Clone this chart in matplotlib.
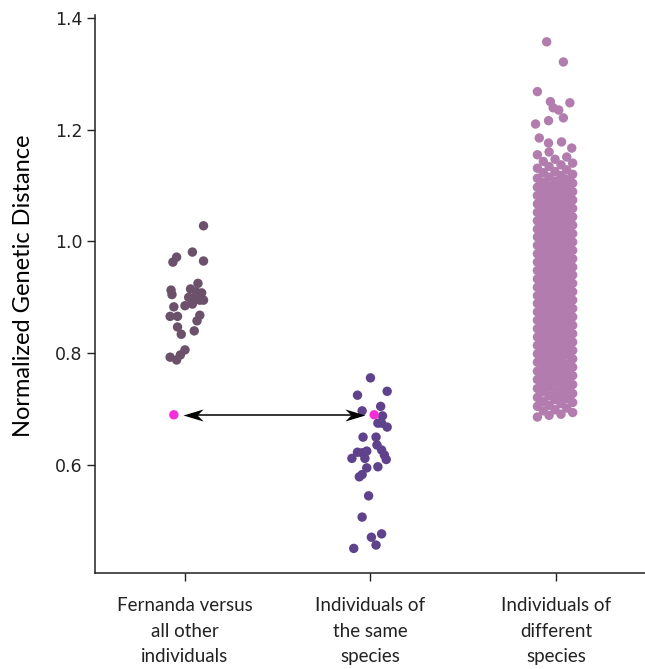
import numpy as np
import matplotlib.pyplot as plt
from matplotlib.path import Path

# categories and tick labels
categories = [0, 1, 2]
cat_labels = ["Fernanda versus\nall other\nindividuals",
              "Individuals of\nthe same\nspecies",
              "Individuals of\ndifferent\nspecies"]

# Fernanda versus all others (jitter offset, distance)
fernanda_dx = [0.10, 0.04, -0.045, -0.065, 0.10, -0.075, -0.07, 0.07, 0.03, 0.06,
               0.09, 0.02, 0.05, 0.08, 0.04, 0.10, -0.06, 0.0, -0.08, -0.04,
               0.08, 0.065, -0.04, -0.02, 0.05, 0.0, -0.025, -0.08, -0.045]
fernanda_y = [1.028, 0.981, 0.972, 0.963, 0.965, 0.913, 0.905, 0.925, 0.915, 0.910,
              0.908, 0.900, 0.898, 0.895, 0.888, 0.895, 0.883, 0.885, 0.866, 0.866,
              0.868, 0.858, 0.847, 0.834, 0.840, 0.806, 0.797, 0.793, 0.788]

# individuals of the same species
same_dx = [0.0, -0.07, 0.09, 0.055, -0.045, 0.065, 0.04, 0.09, 0.06, -0.04,
           0.03, 0.035, 0.06, 0.075, 0.085, -0.07, -0.02, -0.1, -0.045, -0.03,
           -0.02, 0.04, -0.06, -0.045, -0.01, -0.045, 0.06, 0.005, 0.03, -0.09]
same_y = [0.756, 0.725, 0.732, 0.705, 0.697, 0.688, 0.675, 0.668, 0.675, 0.650,
          0.650, 0.636, 0.627, 0.618, 0.610, 0.623, 0.625, 0.612, 0.622, 0.612,
          0.595, 0.597, 0.579, 0.583, 0.545, 0.507, 0.477, 0.471, 0.457, 0.451]

# individuals of different species: dense column plus sparse top
diff_y = [0.686, 0.689, 0.691, 0.694, 0.697, 0.699, 0.702, 0.705, 0.707, 0.710,
          0.712, 0.714, 0.717, 0.719, 0.721, 0.724, 0.726, 0.728, 0.731, 0.733,
          0.735, 0.737, 0.740, 0.742, 0.744, 0.746, 0.749, 0.751, 0.753, 0.755,
          0.757, 0.760, 0.762, 0.764, 0.766, 0.768, 0.771, 0.773, 0.775, 0.777,
          0.779, 0.781, 0.784, 0.786, 0.788, 0.790, 0.792, 0.794, 0.797, 0.799,
          0.801, 0.803, 0.805, 0.807, 0.810, 0.812, 0.814, 0.816, 0.818, 0.820,
          0.822, 0.825, 0.827, 0.829, 0.831, 0.833, 0.835, 0.837, 0.840, 0.842,
          0.844, 0.846, 0.848, 0.850, 0.852, 0.855, 0.857, 0.859, 0.861, 0.863,
          0.865, 0.867, 0.869, 0.872, 0.874, 0.876, 0.878, 0.880, 0.882, 0.884,
          0.886, 0.889, 0.891, 0.893, 0.895, 0.897, 0.899, 0.901, 0.903, 0.906,
          0.908, 0.910, 0.912, 0.914, 0.916, 0.918, 0.920, 0.923, 0.925, 0.927,
          0.929, 0.931, 0.933, 0.935, 0.937, 0.940, 0.942, 0.944, 0.946, 0.948,
          0.950, 0.952, 0.954, 0.957, 0.959, 0.961, 0.963, 0.965, 0.967, 0.969,
          0.971, 0.974, 0.976, 0.978, 0.980, 0.982, 0.984, 0.986, 0.988, 0.991,
          0.993, 0.995, 0.997, 0.999, 1.001, 1.003, 1.005, 1.008, 1.010, 1.012,
          1.014, 1.016, 1.018, 1.020, 1.022, 1.025, 1.027, 1.029, 1.031, 1.033,
          1.035, 1.037, 1.039, 1.042, 1.044, 1.046, 1.048, 1.050, 1.052, 1.054,
          1.056, 1.059, 1.061, 1.063, 1.065, 1.067, 1.069, 1.071, 1.074, 1.076,
          1.078, 1.080, 1.082, 1.084, 1.086, 1.089, 1.091, 1.093, 1.095, 1.097,
          1.099, 1.102, 1.104, 1.106, 1.108, 1.111, 1.113, 1.115, 1.118, 1.120,
          1.123, 1.125, 1.128, 1.131, 1.134, 1.137, 1.140, 1.143, 1.147, 1.151,
          1.155, 1.160]
diff_top_dx = [-0.05, 0.04, -0.10, -0.03, 0.075, -0.015, 0.015, 0.04, -0.04, -0.11,
               -0.09, 0.03, -0.04, 0.085]
diff_top_y = [1.357, 1.321, 1.268, 1.250, 1.248, 1.239, 1.235, 1.221, 1.216, 1.210,
              1.185, 1.178, 1.176, 1.167]

# Fernanda's own distance to her species (highlighted)
highlight_dx = [-0.06, 0.02]
highlight_y = [0.690, 0.690]

c_fern = '#6b5169'
c_same = '#5e428c'
c_diff = '#b27dae'
c_high = '#f52fd8'
msize = 46

fig = plt.figure(figsize=(6.45, 6.69), dpi=100)
ax = fig.add_axes([95/645, 96/669, 550/645, 558/669])

# column jitter for the dense strip
strip_jitter = [-0.10, -0.037, 0.027, 0.09, -0.068, -0.005, 0.058]
diff_dx = np.resize(strip_jitter, len(diff_y))

ax.scatter(categories[0] + np.array(fernanda_dx), fernanda_y, s=msize, color=c_fern, edgecolors='none')
ax.scatter(categories[1] + np.array(same_dx), same_y, s=msize, color=c_same, edgecolors='none')
ax.scatter(categories[2] + diff_dx, diff_y, s=msize, color=c_diff, edgecolors='none')
ax.scatter(categories[2] + np.array(diff_top_dx), diff_top_y, s=msize, color=c_diff, edgecolors='none')
ax.scatter(np.array(categories[:2]) + np.array(highlight_dx), highlight_y, s=msize, color=c_high,
           edgecolors='none', zorder=4)

# double arrow with barbed heads
x_left = categories[0] - 0.01
x_right = categories[1] - 0.027
head_l = Path([(0, 0), (1, 0.3), (0.7, 0), (1, -0.3), (0, 0)])
head_r = Path([(0, 0), (-1, 0.3), (-0.7, 0), (-1, -0.3), (0, 0)])
ax.plot([x_left + 0.03, x_right - 0.03], [highlight_y[0], highlight_y[1]], color='black', lw=1.1, zorder=3)
ax.plot(x_left, highlight_y[0], marker=head_l, ms=29, color='black', mew=0, zorder=3)
ax.plot(x_right, highlight_y[1], marker=head_r, ms=29, color='black', mew=0, zorder=3)

ax.set_xlim(-0.485, 2.48)
ax.set_ylim(0.407, 1.405)
ax.set_yticks([0.6, 0.8, 1.0, 1.2, 1.4])
ax.set_yticklabels(['0.6', '0.8', '1.0', '1.2', '1.4'], fontsize=12.5)
ax.set_xticks(categories)
ax.set_xticklabels(cat_labels, fontfamily='Lato', fontsize=13.5, linespacing=1.6)
ax.tick_params(axis='both', length=5.5, width=1, colors='#222222')
ax.tick_params(axis='x', pad=12)
fig.text(24/645, 1 - 286/669, 'Normalized Genetic Distance', fontfamily='Lato', fontsize=17,
         rotation=90, ha='center', va='center')

for side in ['top', 'right']:
    ax.spines[side].set_visible(False)
for side in ['left', 'bottom']:
    ax.spines[side].set_linewidth(1.1)
    ax.spines[side].set_color('#222222')

fig.savefig('out.png', dpi=100)
